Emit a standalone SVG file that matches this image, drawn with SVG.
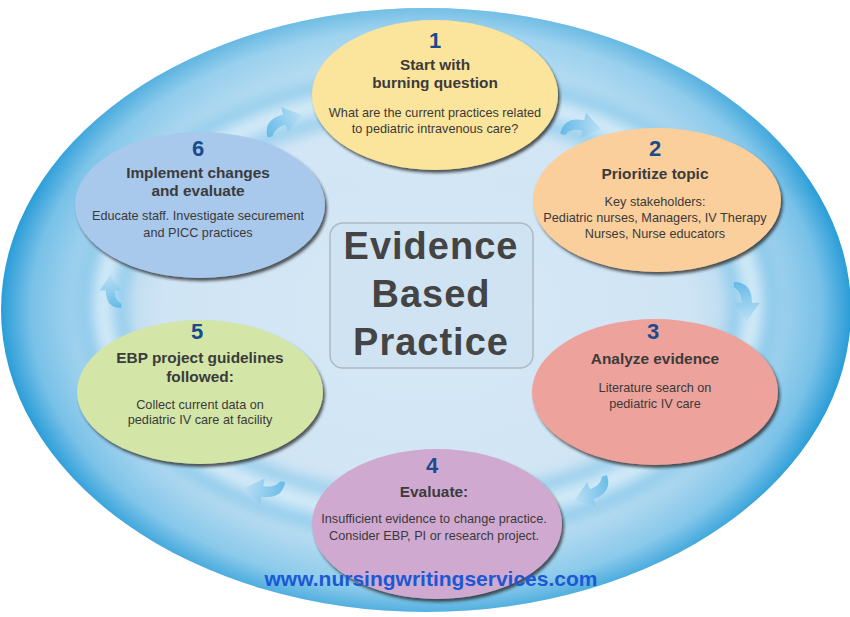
<svg xmlns="http://www.w3.org/2000/svg" width="850" height="617" viewBox="0 0 850 617">
<style>
.num{font-family:"Liberation Sans",Arial,sans-serif;font-weight:bold;font-size:22px;fill:#1a4b8c;text-anchor:middle}
.ttl{font-family:"Liberation Sans",Arial,sans-serif;font-weight:bold;font-size:15.4px;fill:#3b3b3b;text-anchor:middle}
.bdy{font-family:"Liberation Sans",Arial,sans-serif;font-size:12.7px;fill:#3a3a3a;text-anchor:middle}
.big{font-family:"Liberation Sans",Arial,sans-serif;font-weight:bold;font-size:38px;letter-spacing:1px;fill:#444;text-anchor:middle}
.web{font-family:"Liberation Sans",Arial,sans-serif;font-weight:bold;font-size:21px;fill:#1b58d4;text-anchor:middle}
.node{filter:url(#sh)}
.arr{fill:url(#ag);opacity:0.85}
</style>
<defs>
<radialGradient id="bg" cx="0.5" cy="0.5" r="0.5">
<stop offset="0" stop-color="#d8e9f6"/>
<stop offset="0.62" stop-color="#cfe4f4"/>
<stop offset="0.8" stop-color="#add7ef"/>
<stop offset="0.93" stop-color="#78c1e8"/>
<stop offset="1" stop-color="#2a9dd8"/>
</radialGradient>
<linearGradient id="hl" x1="0" y1="0" x2="0" y2="1">
<stop offset="0" stop-color="#ffffff" stop-opacity="0.35"/>
<stop offset="0.3" stop-color="#ffffff" stop-opacity="0"/>
<stop offset="0.7" stop-color="#ffffff" stop-opacity="0"/>
<stop offset="1" stop-color="#ffffff" stop-opacity="0.2"/>
</linearGradient>
<linearGradient id="ag" x1="0" y1="0" x2="1" y2="0">
<stop offset="0" stop-color="#5ab5e6"/>
<stop offset="1" stop-color="#b9def4"/>
</linearGradient>
<filter id="sh" x="-10%" y="-10%" width="125%" height="130%">
<feDropShadow dx="2" dy="3" stdDeviation="1.5" flood-color="#222" flood-opacity="0.75"/>
</filter>
<filter id="bl" x="-10%" y="-10%" width="120%" height="120%">
<feGaussianBlur stdDeviation="7"/>
</filter>
<path id="arw" d="M0,14 C0,4 6,0 16,0 L16,-6 L30,4 L16,14 L16,8 C10,8 6,10 4,14 Z"/>
</defs>
<ellipse cx="426" cy="310" rx="425" ry="302" fill="url(#bg)"/>
<ellipse cx="426" cy="310" rx="425" ry="302" fill="url(#hl)"/>
<ellipse cx="428" cy="305" rx="325" ry="212" fill="none" stroke="#62b8e5" stroke-width="46" opacity="0.55" filter="url(#bl)"/>
<ellipse cx="428" cy="305" rx="325" ry="212" fill="none" stroke="#e6f3fb" stroke-width="22" opacity="0.8" filter="url(#bl)"/>
<g id="connectors">
<use href="#arw" class="arr" transform="translate(564,116) rotate(12) scale(1.3)"/>
<use href="#arw" class="arr" transform="translate(752,282) rotate(90) scale(1.3)"/>
<use href="#arw" class="arr" transform="translate(613,492) rotate(160) scale(1.3)"/>
<use href="#arw" class="arr" transform="translate(282,500) rotate(190) scale(1.3)"/>
<use href="#arw" class="arr" transform="translate(106,308) rotate(-90) scale(1.1)"/>
<use href="#arw" class="arr" transform="translate(263,120) rotate(-15) scale(1.3)"/>
</g>
<g id="center">
<rect x="330" y="223" width="203" height="145" rx="13" fill="#cfe3f3" stroke="#aeb9c2" stroke-width="1.5"/>
<text class="big" x="431" y="259">Evidence</text>
<text class="big" x="431" y="307">Based</text>
<text class="big" x="431" y="355">Practice</text>
</g>
<g id="node1">
<ellipse class="node" cx="435" cy="95" rx="123" ry="75" fill="#fbe49b"/>
<text class="num" x="435" y="48">1</text>
<text class="ttl" x="435" y="70">Start with</text>
<text class="ttl" x="435" y="88">burning question</text>
<text class="bdy" x="435" y="117">What are the current practices related</text>
<text class="bdy" x="435" y="133">to pediatric intravenous care?</text>
</g>
<g id="node2">
<ellipse class="node" cx="657" cy="200" rx="124" ry="72" fill="#fbcf9b"/>
<text class="num" x="655" y="156">2</text>
<text class="ttl" x="655" y="179">Prioritize topic</text>
<text class="bdy" x="655" y="206">Key stakeholders:</text>
<text class="bdy" x="655" y="222">Pediatric nurses, Managers, IV Therapy</text>
<text class="bdy" x="655" y="238">Nurses, Nurse educators</text>
</g>
<g id="node3">
<ellipse class="node" cx="655" cy="392" rx="123" ry="73" fill="#eda29c"/>
<text class="num" x="653" y="339">3</text>
<text class="ttl" x="655" y="364">Analyze evidence</text>
<text class="bdy" x="655" y="392">Literature search on</text>
<text class="bdy" x="655" y="408">pediatric IV care</text>
</g>
<g id="node4">
<ellipse class="node" cx="437" cy="524" rx="125" ry="75" fill="#d0a9d1"/>
<text class="num" x="432" y="473">4</text>
<text class="ttl" x="434" y="497">Evaluate:</text>
<text class="bdy" x="434" y="523">Insufficient evidence to change practice.</text>
<text class="bdy" x="434" y="540">Consider EBP, PI or research project.</text>
</g>
<g id="node5">
<ellipse class="node" cx="200" cy="392" rx="123" ry="72" fill="#d3e6a7"/>
<text class="num" x="197" y="339">5</text>
<text class="ttl" x="200" y="363">EBP project guidelines</text>
<text class="ttl" x="200" y="382">followed:</text>
<text class="bdy" x="200" y="409">Collect current data on</text>
<text class="bdy" x="200" y="424">pediatric IV care at facility</text>
</g>
<g id="node6">
<ellipse class="node" cx="200" cy="205" rx="125" ry="73" fill="#a8c8ec"/>
<text class="num" x="198" y="156">6</text>
<text class="ttl" x="198" y="178">Implement changes</text>
<text class="ttl" x="198" y="196">and evaluate</text>
<text class="bdy" x="198" y="220">Educate staff. Investigate securement</text>
<text class="bdy" x="198" y="237">and PICC practices</text>
</g>
<text class="web" x="431" y="586">www.nursingwritingservices.com</text>
</svg>
